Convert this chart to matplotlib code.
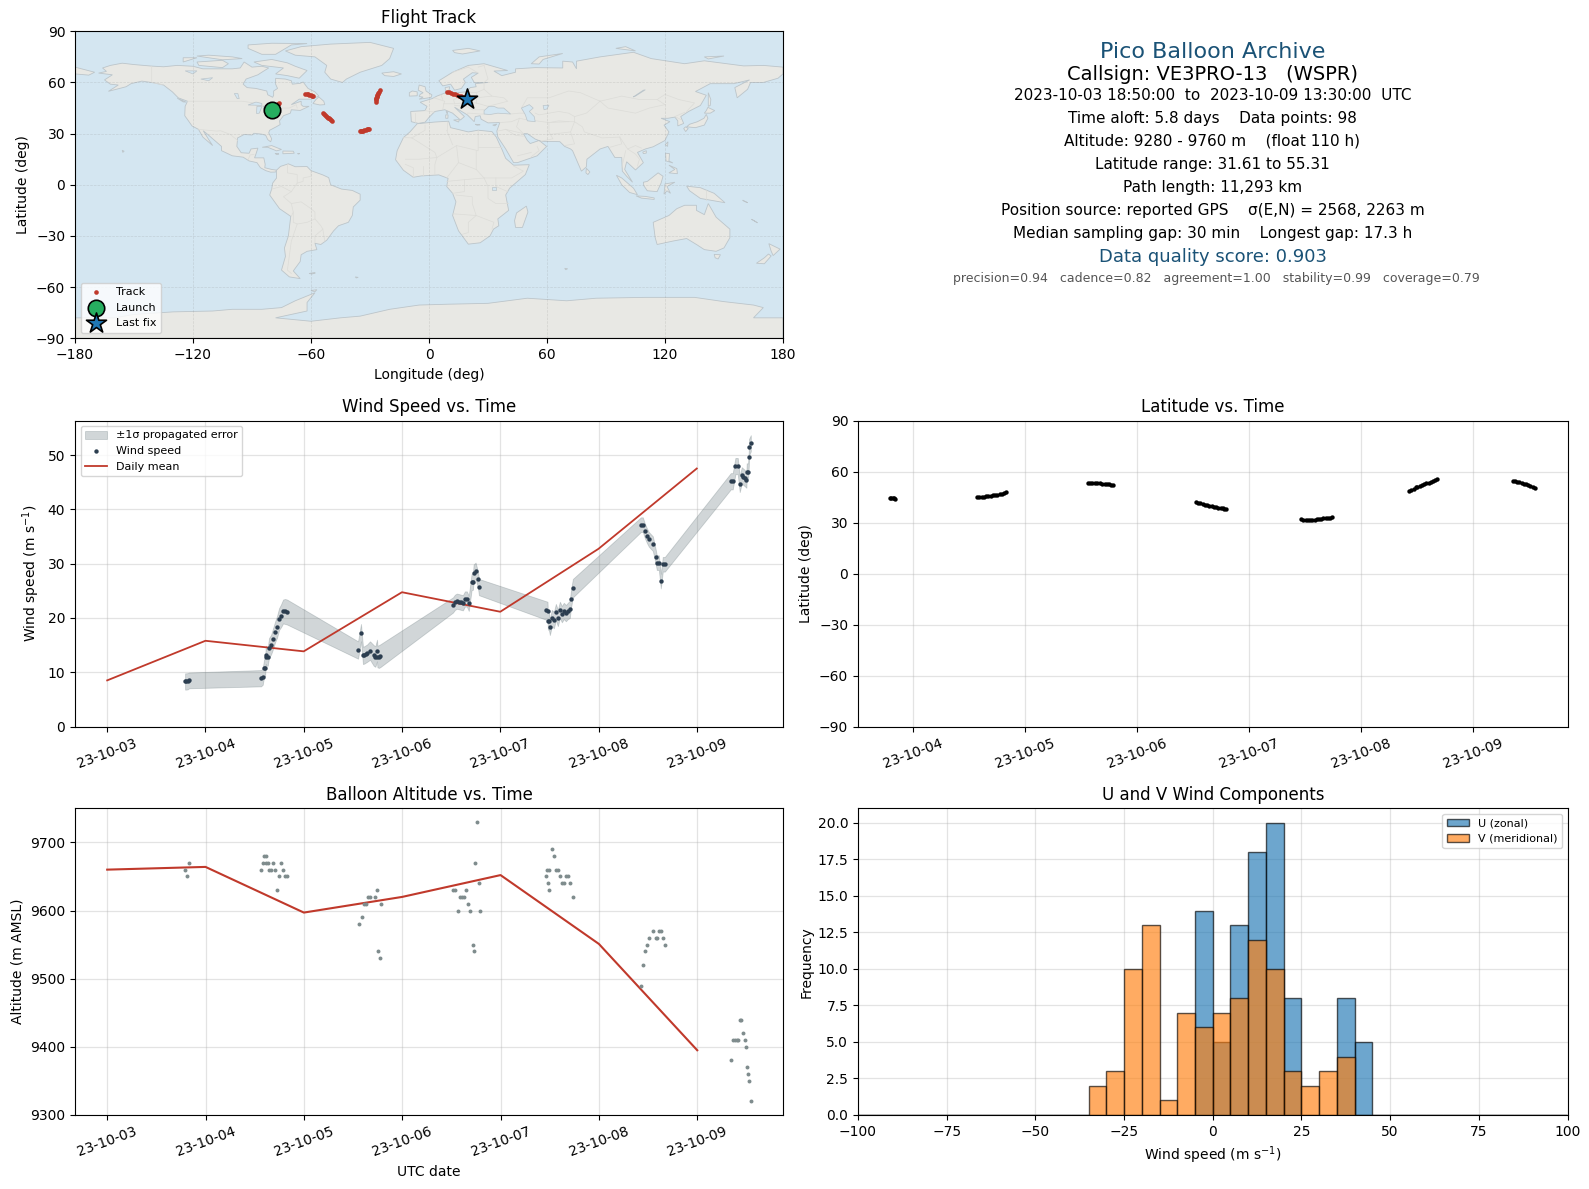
import matplotlib
matplotlib.use("Agg")
import matplotlib.pyplot as plt
import matplotlib.dates as mdates
from matplotlib.patches import Polygon
import numpy as np
import pandas as pd

W, H = 1589, 1189
START = pd.Timestamp("2023-10-03")

# ---------------------------------------------------------------- data
wind_day = [0.793,0.807,0.82,0.834,
 1.566,1.583,1.597,1.607,1.614,1.62,1.634,1.647,1.668,1.688,1.708,1.729,1.749,1.769,1.79,1.81,1.83,
 2.553,2.583,2.603,2.617,2.63,2.644,2.675,2.712,2.729,2.746,2.75,2.766,2.78,
 3.519,3.539,3.559,3.58,3.6,3.62,3.64,3.66,3.68,3.708,3.722,3.729,3.749,3.773,3.783,
 4.464,4.481,4.485,4.495,4.505,4.525,4.546,4.566,4.586,4.607,4.627,4.647,4.668,4.688,4.708,4.72,4.739,
 5.431,5.451,5.471,5.492,5.512,5.553,5.583,5.593,5.614,5.634,5.654,5.675,
 6.346,6.366,6.393,6.417,6.437,6.458,6.475,6.488,6.505,6.508,6.522,6.53,6.532,6.55]
wind_speed = [8.3,8.3,8.35,8.5,
 8.9,9.2,10.85,10.85,13.2,12.9,12.9,14.5,15.1,16.2,17.4,18.4,19.8,20.4,21.2,21.2,21.1,
 14.1,17.3,13.1,13.2,13.35,13.5,14.0,13.1,12.9,14.0,12.9,12.9,13.05,
 22.4,22.9,23.1,23.0,22.9,22.8,23.5,23.5,22.7,26.6,26.7,28.35,28.7,27.1,25.7,
 21.4,21.3,19.45,19.45,18.35,20.0,19.6,21.1,20.0,21.5,20.7,21.3,20.9,21.3,21.6,23.5,25.5,
 37.2,37.2,36.1,35.2,34.5,33.7,31.2,30.2,30.2,26.8,29.9,29.9,
 45.2,45.2,48.0,48.0,44.7,46.3,46.0,45.8,45.5,47.0,47.0,49.6,51.5,52.2]
wind_sigma = [1.5,1.5,1.5,1.45,
 1.5,1.5,1.6,1.6,1.7,1.7,1.7,1.8,1.8,1.9,1.9,2.0,2.0,2.1,2.2,2.3,2.3,
 1.6,1.6,1.6,1.6,1.6,1.6,1.7,1.9,1.9,2.0,2.0,2.1,2.1,
 1.4,1.4,1.4,1.4,1.4,1.4,1.4,1.4,1.4,1.5,1.5,1.5,1.5,1.5,1.5,
 1.7,1.7,1.6,1.6,1.5,1.5,1.5,1.5,1.5,1.5,1.5,1.5,1.5,1.5,1.6,1.6,1.7,
 1.35,1.35,1.35,1.35,1.35,1.35,1.35,1.35,1.35,1.35,1.35,1.35,
 1.5,1.5,1.5,1.5,1.5,1.5,1.5,1.5,1.5,1.5,1.5,1.5,1.5,1.5]

mean_day = [0, 1, 2, 3, 4, 5, 6]
wind_mean = [8.5, 15.8, 13.85, 24.75, 21.15, 32.75, 47.55]
alt_mean = [9660, 9664, 9597, 9620, 9652, 9551, 9395]

alt_day = [0.793,0.813,0.834,
 1.566,1.587,1.593,1.617,1.62,1.637,1.648,1.668,1.688,1.709,1.729,1.749,1.77,1.79,1.81,1.83,
 2.557,2.587,2.61,2.63,2.65,2.67,2.72,2.74,2.75,2.77,2.78,
 3.52,3.54,3.564,3.585,3.605,3.625,3.645,3.665,3.686,3.716,3.726,3.736,3.757,3.777,3.787,
 4.466,4.476,4.486,4.497,4.497,4.527,4.547,4.568,4.588,4.608,4.628,4.649,4.669,4.689,4.709,4.74,
 5.43,5.45,5.47,5.49,5.51,5.55,5.585,5.59,5.61,5.63,5.65,5.67,
 6.34,6.36,6.38,6.40,6.41,6.43,6.45,6.47,6.49,6.50,6.51,6.52,6.525,6.545]
alt_m = [9660,9650,9670,
 9660,9670,9680,9670,9680,9670,9660,9660,9670,9660,9630,9650,9670,9660,9650,9650,
 9580,9590,9610,9610,9620,9620,9620,9630,9540,9530,9610,
 9630,9630,9600,9620,9620,9620,9630,9610,9600,9550,9540,9670,9730,9640,9600,
 9650,9660,9640,9660,9630,9690,9680,9660,9660,9650,9640,9640,9650,9650,9640,9620,
 9490,9520,9540,9550,9560,9570,9560,9560,9570,9570,9560,9550,
 9380,9410,9410,9410,9410,9440,9440,9420,9410,9400,9370,9360,9350,9320]

lat_day = [0.79,0.80,0.815,0.83,0.84,
 1.57,1.59,1.61,1.63,1.65,1.67,1.69,1.71,1.73,1.75,1.77,1.79,1.81,1.826,
 2.56,2.58,2.60,2.62,2.64,2.67,2.69,2.71,2.73,2.75,2.77,2.78,
 3.525,3.545,3.565,3.585,3.605,3.625,3.645,3.665,3.685,3.705,3.725,3.745,3.765,3.78,3.797,
 4.465,4.485,4.505,4.525,4.545,4.565,4.585,4.605,4.625,4.645,4.665,4.685,4.705,4.725,4.74,
 5.43,5.45,5.47,5.49,5.505,5.525,5.545,5.565,5.585,5.605,5.625,5.645,5.665,5.68,
 6.355,6.375,6.395,6.415,6.435,6.455,6.475,6.495,6.515,6.535,6.555]
lat_deg = [44.2,44.2,44.2,44.2,44.1,
 44.8,44.9,45.0,45.1,45.3,45.5,45.7,45.9,46.1,46.4,46.6,47.0,47.4,47.8,
 53.1,53.1,53.1,53.1,53.1,53.0,52.9,52.8,52.7,52.5,52.2,52.1,
 41.9,41.6,41.2,40.9,40.5,40.1,39.8,39.5,39.3,39.1,38.8,38.5,38.3,38.0,37.7,
 31.8,31.7,31.65,31.61,31.65,31.7,31.75,31.8,31.9,32.2,32.4,32.5,32.7,32.9,33.0,
 48.8,49.4,50.0,50.6,51.0,51.5,51.9,52.4,53.0,53.4,53.9,54.4,54.9,55.31,
 54.7,54.2,53.9,53.6,53.3,52.9,52.4,52.0,51.5,51.0,50.5]

track_lon = [-80.0,-79.7,-79.4,-79.2,
 -79.0,-78.6,-78.2,-77.9,-77.6,-77.3,-77.0,-76.6,-76.2,
 -62.9,-62.2,-61.5,-60.8,-60.2,-59.5,-58.9,
 -53.7,-53.2,-52.7,-52.3,-51.9,-51.4,-50.9,-50.3,-49.8,-49.4,
 -35.2,-34.6,-34.0,-33.4,-32.8,-32.2,-31.6,-31.0,-30.5,
 -27.0,-26.9,-26.8,-26.7,-26.6,-26.4,-26.2,-26.0,-25.7,-25.4,-25.0,
 9.2,10.2,11.2,12.2,13.2,14.2,15.2,16.2,17.2,18.2,19.1]
track_lat = [44.2,44.2,44.2,44.1,
 44.8,45.1,45.5,45.9,46.3,46.7,47.1,47.5,47.8,
 53.1,53.1,53.0,52.8,52.5,52.2,52.1,
 41.9,41.3,40.7,40.2,39.7,39.3,38.9,38.5,38.1,37.7,
 31.6,31.6,31.7,31.8,32.0,32.3,32.6,32.9,33.0,
 48.8,49.6,50.4,51.0,51.6,52.2,52.8,53.4,54.0,54.6,55.31,
 54.7,54.3,53.9,53.5,53.1,52.7,52.2,51.8,51.3,50.9,50.5]
launch_lon, launch_lat = -79.9, 44.1
last_lon, last_lat = 19.1, 50.5

bin_edges = [-100 + 5 * i for i in range(41)]
u_counts = {-5:14, 0:5, 5:13, 10:18, 15:20, 20:8, 35:8, 40:5}
v_counts = {-35:2, -30:3, -25:10, -20:13, -15:1, -10:7, -5:6, 0:7, 5:8, 10:12, 15:10, 20:3, 25:2, 30:3, 35:4}

# land outlines (lon, lat)
north_america = [(-168,65.5),(-164,66.5),(-166,68.5),(-162,70),(-156,71.3),(-150,70.5),(-141,69.6),(-135,69.2),(-128,70),(-120,69.5),(-115,68),(-108,68),(-100,68),(-96,68.5),(-94,72),(-90,69),(-85,69.5),(-81.5,68.5),(-85,66),(-87,64.5),(-93,62),(-94.5,59),(-92.5,57),(-88,56.5),(-82.5,55),(-82,52.8),(-79.5,51.3),(-79,52.5),(-79,55),(-77,56.5),(-78,59),(-78,62.4),(-73,62),(-70,61),(-69.5,59),(-65.5,59.5),(-64,60.3),(-61.5,56.5),(-58,54.5),(-56,52),(-60,50.2),(-66,50.2),(-70,47),(-65,49),(-65,47),(-64,46),(-61,46),(-65.5,43.6),(-70,44),(-70.5,42),(-74,40.5),(-76,37.5),(-75.7,35.3),(-78,33.8),(-81,32),(-81.5,30.5),(-80,27),(-80.5,25.2),(-82,26.5),(-83,29),(-85,29.7),(-89,30.2),(-90,29.2),(-94,29.5),(-97.3,27.5),(-97.7,22.5),(-95.5,18.8),(-91.5,18.5),(-90.5,21),(-87,21.5),(-88,18),(-88.7,15.8),(-84,15.8),(-83.3,12),(-83.5,10),(-80,9),(-77.5,8.6),(-78,7.5),(-80.5,7.4),(-83,8.3),(-85.7,10),(-87.5,13),(-91.5,14),(-94.5,16.2),(-100,17),(-105.5,20),(-105.5,22.5),(-109,26),(-112.5,29.5),(-114.8,31.7),(-112,26.5),(-110,23),(-112,25),(-115,28),(-117.2,32.5),(-120.5,34.5),(-122.5,37.8),(-124.2,40.5),(-124,46),(-122.8,49),(-127.5,51),(-130.5,54.5),(-135,58.5),(-140,59.8),(-146,60.8),(-151.5,59.3),(-154,57.5),(-163,54.8),(-158,58.5),(-162,59),(-165,61.5),(-161,64.5)]
south_america = [(-77.5,8.6),(-75.5,10.8),(-71.5,12.3),(-68,10.6),(-62,10.7),(-60,8.3),(-54,5.8),(-51,4.2),(-50,0),(-44.5,-2.5),(-39,-3.3),(-35,-5.5),(-35,-9),(-38.5,-13),(-39,-18),(-41,-22),(-46,-24),(-48.5,-27),(-52,-32.5),(-55,-35),(-58,-34.3),(-57,-38),(-62,-39),(-65,-41),(-65.5,-45),(-69,-50.5),(-65.5,-55),(-71,-54),(-75,-50),(-73,-42),(-73.5,-37),(-71.5,-30),(-70.3,-18.5),(-76,-14),(-81,-6),(-80,-2.5),(-79.5,1),(-77.5,4)]
africa = [(-6,35.8),(3,36.8),(10,37.3),(11,33.5),(15,32.4),(20,31),(25,32),(32,31.2),(34.2,28),(37,21),(39,15.5),(43,11.5),(51,11.8),(49,6),(41,-2),(39,-6),(40.5,-15),(35,-20),(35.5,-24),(32.8,-26),(31,-30),(26,-34),(20,-34.8),(18.2,-32),(15,-27),(12,-18),(13.7,-10),(12,-5),(9,-1),(9.7,3.8),(5,5.8),(-4,5.2),(-8,4.4),(-13,8.5),(-17,14.7),(-16.2,20),(-13,27.7),(-9.7,31)]
eurasia = [(-9,37),(-9.3,43),(-2,43.5),(-1,46),(-4.5,48.4),(1.5,50.5),(4,52),(8.5,54),(8.2,57),(10.5,57.5),(10,54.5),(14,54),(19,54.5),(21,57),(24,57.5),(23.5,59.3),(30,60),(23,60),(21.5,63),(25,65.5),(22,65.7),(17.5,62),(18.5,60),(16.5,56.5),(13,55.5),(11,59),(7,58),(5,61),(12,66),(20,70),(28,71),(40,67),(33,66.7),(37,64),(44,66),(44,68),(54,68.7),(68,68.5),(68,72.5),(73,72),(75,68),(75,72.5),(87,75),(104,77.7),(113,74),(130,71),(140,72.7),(160,69.7),(170,70),(180,69),(180,65),(177.5,62.5),(170,60),(163.5,60),(162,56),(156.7,51),(155.5,57),(163,61.5),(155,59.3),(143,59.3),(135.5,54.7),(141,52.5),(138,46.5),(132,43),(128,40),(129.5,36),(126.5,34.5),(126.5,37.5),(125,39.7),(121.5,39),(118,39),(122.5,37),(119.5,35),(122,31),(120,26),(114,22.3),(110,21),(106,19),(109,13),(105,8.7),(100.5,13.5),(99.5,9),(103.5,1.5),(100.5,5),(98.3,8),(98,16),(94.5,16),(91,22.5),(87,21),(80.3,15),(80,10.5),(77.5,8),(73,20),(72,21),(69,22.5),(66.5,25.3),(57,25.5),(54,26.8),(50,30),(48,30),(50,26),(51.5,24.2),(56,26),(59.8,22.5),(55,17),(45,13),(43,13),(39,21),(35,28),(34.5,31.5),(36,36.5),(30,36.3),(26.5,38.5),(26,40.5),(23.5,40),(23,37),(19.5,41),(13,45.5),(18,40),(16,38),(12,42),(8,44),(3,43),(0,39.5),(-2,36.7),(-5.5,36)]
chukotka = [(-180,69),(-175,67.5),(-170,66),(-173,64.3),(-180,65)]
greenland = [(-73,78.5),(-65,81),(-50,82.5),(-30,83.5),(-18,80),(-20,74),(-24,70),(-35,66),(-42,62),(-44,60),(-50,62),(-53,66),(-52,70),(-58,75),(-68,76)]
antarctica = [(-180,-90),(-180,-78),(-160,-78),(-150,-76),(-130,-74.5),(-110,-74),(-100,-73),(-85,-73),(-75,-72),(-68,-68),(-58,-63.3),(-62,-69),(-62,-74),(-78,-78),(-60,-80),(-45,-78),(-35,-77),(-20,-73),(-5,-70.5),(10,-70),(30,-69.5),(50,-66.5),(70,-68),(85,-66.5),(110,-66),(135,-66),(150,-68.5),(165,-70.5),(170,-72),(165,-78),(180,-78),(180,-90)]
australia = [(114,-22),(122,-18),(126,-14),(130,-12),(136,-12),(136,-15),(140,-17.5),(142,-11),(146,-19),(153,-26),(153,-31),(150,-37),(146,-39),(140,-38),(136,-35),(131,-31.5),(124,-33),(116,-35),(115,-31)]
madagascar = [(49.5,-12.5),(50.3,-16),(47.5,-25),(44,-25),(43.5,-21),(44.5,-16.5)]
islands = [
 [(-5,50.2),(1,51.2),(1.5,52.7),(-1.5,55),(-2,57.5),(-5,58.5),(-5.5,55.5),(-3,54),(-4.5,53),(-5,51.8),(-3,51.4)],
 [(-10,52),(-6,52.2),(-6,54.5),(-8.5,55),(-10,54)],
 [(-24,65.5),(-18,66.3),(-14,65),(-18,63.5),(-22.5,64)],
 [(-59,47.7),(-55.5,46.8),(-53,47),(-53.5,49),(-56,51.5),(-57.5,50)],
 [(-80,73.5),(-72,71.5),(-68,69.5),(-62,67),(-66,62.5),(-72,64),(-78,65),(-74,68.5),(-85,70),(-89,72)],
 [(-117,70),(-105,68.7),(-102,71),(-105,73),(-118,72)],
 [(-125,72),(-118,74.5),(-125,74.5)],
 [(-92,80),(-85,76.5),(-78,76.5),(-70,82),(-62,82.8),(-80,83),(-92,82)],
 [(-112,76),(-100,75),(-95,74),(-105,73.3),(-118,75.5)],
 [(-128,50.8),(-123.5,48.5),(-125,48.6)],
 [(-84.8,22),(-80,23),(-75,20.7),(-77.5,19.9),(-82,22)],
 [(-74.3,19.8),(-69,19.7),(-68.5,18.5),(-74.3,18.2)],
 [(-78.3,18.4),(-76.3,18.1),(-77.5,17.8)],
 [(-66.8,18.4),(-65.7,18.3),(-66.5,18)],
 [(-58.5,-51.5),(-57.8,-51.7),(-59.5,-52.3),(-61,-52)],
 [(130.5,31.2),(131.8,33),(130.5,34),(129.5,33)],
 [(131,34),(135.5,33.5),(140,35),(141.8,39),(141,41.3),(139.8,39),(136.5,37),(132.5,35.5)],
 [(140,42),(143,42),(145.3,43.5),(141.8,45.4),(141,43.5)],
 [(142,54),(143.3,50),(143,46.5),(142,46),(142,50)],
 [(120.1,23.5),(121.5,25.2),(121.3,22.5)],
 [(108.7,19.2),(110.5,20),(110.5,18.6),(109,18.3)],
 [(80,9.7),(81.8,7.5),(80.8,6),(79.8,7)],
 [(95.3,5.6),(98,4),(104,-2),(106,-5.8),(102,-4.5),(98,0)],
 [(109,1.5),(111,2),(116.5,7),(119,5),(118,1),(116,-4),(111,-3.5),(109.2,-0.5)],
 [(105.3,-6.5),(110,-6.8),(114.5,-7.7),(114.5,-8.6),(108,-7.8)],
 [(119.5,-5.5),(120,0.5),(125,1.5),(121,-1),(122.8,-5),(121,-3.5)],
 [(131,-0.8),(138,-1.7),(145,-5),(150.5,-10.5),(143,-9),(138,-8),(132.5,-3.5)],
 [(120.3,18.5),(122.3,18.3),(122,14),(124,12.8),(120.5,14)],
 [(122,11.5),(126,9.5),(126.3,6.5),(122,7),(125,9)],
 [(172.8,-34.5),(178.5,-37.7),(175,-41.5),(174,-39)],
 [(172.6,-40.6),(174,-41.7),(170.5,-46.3),(166.5,-46),(170.5,-42.8)],
 [(145,-40.8),(148.2,-41),(147,-43.5),(145.5,-42.8)],
 [(12,78.8),(20,80),(26,78.5),(17,76.7),(13,77.5)],
 [(52,71),(56,75),(68,77),(58,73.5),(56,70.8)],
 [(95,80),(105,78.5),(100,81)],
 [(140,75),(150,75.5),(142,73.8)],
 [(8.5,41),(9.7,41),(9.6,39),(8.5,39)],
 [(12.5,38),(15.5,38.2),(15,36.8)],
 [(8.7,43),(9.5,42.9),(9.3,41.5)],
 [(23.5,35.5),(26,35.2),(24.5,34.9)],
 [(32.4,35),(34.5,35.6),(33.5,34.6)],
 [(-156,20.2),(-155,19.7),(-155.7,19)],
 [(160,-9.5),(162,-10.5),(159.5,-9)],
 [(164,-20.2),(167,-22.3),(166,-21.5)],
 [(69,-49),(70.5,-49.2),(69.5,-49.8)],
 [(-37.5,-54),(-36,-54.3),(-37,-54.6)],
 [(-60,-62),(-57,-61.5),(-58,-62.7)],
]
lakes = [
 [(28,41.5),(31,41.2),(35,42),(41.5,41.5),(38,45),(35,45),(33,46),(30.5,46),(28,43.5)],
 [(47,45),(51,47),(53,45),(51,43),(53.5,40),(54,37),(50,37.5),(49,41)],
 [(-92,46.8),(-88,48.5),(-85,47.7),(-85,46.5),(-89,46.7)],
 [(-87.5,46),(-85,45.8),(-86.3,42),(-87.7,41.8)],
 [(-84.5,46),(-81,46),(-80,44.7),(-82,43),(-83.5,44)],
 [(-83.3,41.8),(-79,42.8),(-79,43),(-82.5,42.4)],
 [(-79.7,43.3),(-76.3,43.5),(-76.3,44.1),(-79,43.9)],
 [(-99,53.5),(-97.2,53.5),(-96.5,50.5),(-97.5,50.5)],
 [(-124,66.8),(-118,66.8),(-120,65)],
 [(-116,62),(-110,62.8),(-112,61)],
 [(31.8,-1),(34,-1),(34,-3),(32,-3)],
 [(103.8,51.5),(105,52),(110,55.7),(109,55.5)],
 [(58,46.5),(61,46.7),(60,44.5),(58.5,44)],
]
borders = [
 [(-141,69.6),(-141,60),(-135,58.5)],
 [(-122.8,49),(-95,49),(-89,48),(-84,46.5),(-82,43),(-79,43),(-75,45),(-71,45),(-67.5,47),(-67,45)],
 [(-117.2,32.5),(-108,31.5),(-106,31.7),(-101,29.5),(-97.3,26)],
 [(-92,14.5),(-91,17.5),(-89,17.8)],
 [(-72,12),(-72,7),(-67,6),(-67,1),(-70,-4),(-74,-7),(-70,-11),(-69,-16),(-70,-18.4)],
 [(-60,8.3),(-60,5),(-64,4),(-64,2),(-67,1)],
 [(-58,-20),(-58,-16),(-60,-14),(-65,-10),(-70,-11)],
 [(-69,-16),(-69,-22),(-67,-23),(-70,-33),(-72,-50),(-70,-52)],
 [(-67,-23),(-62,-22),(-58,-20),(-55,-24),(-54,-26),(-58,-30),(-58,-34)],
 [(-54,-26),(-53,-33)],
 [(-80,-2.5),(-75,-1),(-70,-4)],
 [(-8.7,27.5),(-13,27.7)],[(-8.7,27.5),(3,19),(4,16),(14,23),(25,20),(25,32)],
 [(-8.7,27.5),(-2,32),(-2,35)],
 [(9,32),(9,37)],[(9,32),(12,23.5)],
 [(25,22),(37,22)],[(24,20),(24,9),(28,4),(34,4),(42,4),(48,8),(43,11)],
 [(34,4),(34,-1),(40,-4)],[(28,4),(30,-1),(30,-8),(34,-11),(40.5,-11)],
 [(4,16),(3,12),(3,6)],[(14,23),(15,13),(9,4)],[(15,13),(24,9)],[(-12,15),(-5,15),(4,16)],
 [(-8,4.4),(-8,10),(-12,12)],[(-3,5),(-3,11)],
 [(13.7,-6),(22,-7),(22,-11),(24,-18),(12,-17)],[(24,-18),(20,-22),(20,-28),(17,-29)],[(24,-18),(33,-22),(32,-26)],
 [(9,2),(18,3),(18,-4),(12,-5)],[(18,3),(28,4)],
 [(35,31.5),(39,32.5),(48,30)],[(36,36.5),(42,37),(46,39),(44.5,34),(48,30)],[(46,39),(48,38.5),(61,36.5),(61,31),(63,27),(57,25.5)],
 [(39,32.5),(44,29),(48,28.5)],[(52,16.5),(56,20),(55,22.5)],[(45,17),(52,19)],
 [(61,36.5),(71,37),(74,37),(72,31),(61,29.5)],[(72,31),(74,24),(69,23)],[(74,37),(78,34),(79,31),(88,27.5),(97,28),(98,24),(92,22)],
 [(97,28),(101,21),(105,23),(108,21.5)],[(101,21),(105,18),(107,15),(106,11)],[(100,20),(98,10)],
 [(49,42),(47,45),(50,51),(61,51),(71,55),(77,54),(85,50),(87,49)],[(87,49),(98,52),(107,50),(116,50),(120,53),(127,50),(135,48),(131,43)],[(87,49),(80,42),(74,40),(74,37)],[(87,49),(91,45),(105,42),(112,45),(120,47),(116,50)],
 [(54,42),(56,41),(66,43),(71,42),(74,40)],[(61,36.5),(66,37.5),(71,37)],
 [(130,42.5),(125,40),(128,38.3)],
 [(28,41.5),(26,41.5),(21,42),(19.5,42)],[(41.5,41.5),(46,42),(49,42)],[(30,46),(24,48),(22,48),(19,50)],
 [(24,48),(24,54)],[(30,46),(40,49),(38,51),(32,52),(24,51)],[(32,52),(28,56),(28,60)],[(19,54.5),(24,54),(28,56)],
 [(7,50),(6,53)],[(2.5,51),(8,49),(7.5,47.5),(13,47.5),(17,48),(22,48)],[(14,54),(15,51),(19,50)],[(15,51),(12.5,50),(13,47.5)],
 [(-2,43.5),(3,42.5)],[(-7,42),(-7,37)],[(7.5,47.5),(7,44)],[(13,46.5),(19,46),(22,44),(28,44)],
 [(12,66),(20,69)],[(25,69),(28,70)],[(25,65.5),(20,69)],[(28,70),(30,62),(28,60)],
 [(141,-3),(141,-9)],
]

# ---------------------------------------------------------------- helpers
def axes_px(l, t, r, b):
    return [l / W, 1 - b / H, (r - l) / W, (b - t) / H]

def to_time(days):
    return START + pd.to_timedelta(np.asarray(days, dtype=float), unit="D")

def style_time(ax):
    ax.xaxis.set_major_locator(mdates.DayLocator())
    ax.xaxis.set_major_formatter(mdates.DateFormatter("%y-%m-%d"))
    ax.tick_params(axis="x", labelrotation=20)
    ax.grid(True, color="#b0b0b0", alpha=0.35, lw=0.9)
    ax.set_axisbelow(True)

RED = "#c0392b"
NAVY = "#1a5276"
OCEAN = "#d4e6f1"
LAND = "#e8e8e4"
COAST = "#bcc5ca"
BORDER = "#dcdcd8"

fig = plt.figure(figsize=(W / 100, H / 100), dpi=100, facecolor="white")

# ---------------------------------------------------------------- map
ax = fig.add_axes(axes_px(75, 31.3, 783, 338.3))
ax.set_facecolor(OCEAN)
for poly in [north_america, south_america, africa, eurasia, chukotka, greenland,
             antarctica, australia, madagascar] + islands:
    ax.add_patch(Polygon(poly, closed=True, fc=LAND, ec=COAST, lw=0.6, zorder=1))
for poly in lakes:
    ax.add_patch(Polygon(poly, closed=True, fc=OCEAN, ec=COAST, lw=0.5, zorder=1.2))
for line in borders:
    xs, ys = zip(*line)
    ax.plot(xs, ys, color=BORDER, lw=0.5, zorder=1.1)
ax.set_xlim(-180, 180)
ax.set_ylim(-90, 90)
ax.set_xticks(range(-180, 181, 60))
ax.set_yticks(range(-90, 91, 30))
ax.xaxis.set_major_formatter(lambda v, p: f"{int(v)}".replace("-", "\u2212"))
ax.yaxis.set_major_formatter(lambda v, p: f"{int(v)}".replace("-", "\u2212"))
ax.grid(True, color="#808080", alpha=0.22, lw=0.5, ls="--", zorder=1.5)
ax.scatter(track_lon, track_lat, s=11, lw=0, color=RED, zorder=3, label="Track")
ax.scatter([launch_lon], [launch_lat], s=140, color="#27ae60", ec="black", lw=1.2, zorder=4, label="Launch")
ax.scatter([last_lon], [last_lat], s=230, marker="*", color="#1f77b4", ec="black", lw=1.2, zorder=5, label="Last fix")
ax.set_title("Flight Track", fontsize=12)
ax.set_xlabel("Longitude (deg)")
ax.set_ylabel("Latitude (deg)")
ax.legend(loc="lower left", fontsize=8)

# ---------------------------------------------------------------- text panel
ax = fig.add_axes(axes_px(858, 31.3, 1567.5, 338.3))
ax.axis("off")
lines = [
 (52, "Pico Balloon Archive", 16, NAVY, 1213),
 (74.5, "Callsign: VE3PRO-13   (WSPR)", 14, "black", 1212.5),
 (95.5, "2023-10-03 18:50:00  to  2023-10-09 13:30:00  UTC", 11, "black", 1213),
 (118.5, "Time aloft: 5.8 days    Data points: 98", 11, "black", 1212.5),
 (141.5, "Altitude: 9280 - 9760 m    (float 110 h)", 11, "black", 1212.5),
 (164.5, "Latitude range: 31.61 to 55.31", 11, "black", 1212.5),
 (187.5, "Path length: 11,293 km", 11, "black", 1213),
 (210.5, "Position source: reported GPS    \u03c3(E,N) = 2568, 2263 m", 11, "black", 1213),
 (233.5, "Median sampling gap: 30 min    Longest gap: 17.3 h", 11, "black", 1213),
 (257.5, "Data quality score: 0.903", 13, NAVY, 1213),
 (278.5, "precision=0.94   cadence=0.82   agreement=1.00   stability=0.99   coverage=0.79", 9, "#555555", 1216),
]
for y, s, size, col, x in lines:
    fig.text(x / W, 1 - y / H, s, fontsize=size, color=col, ha="center", va="center")

# ---------------------------------------------------------------- wind speed
ax = fig.add_axes(axes_px(75, 420.5, 783, 726.5))
t = to_time(wind_day)
ws = np.array(wind_speed)
sg = np.array(wind_sigma)
ax.fill_between(t, ws - sg, ws + sg, color="#5d6f74", alpha=0.28, lw=0.6, label="\u00b11\u03c3 propagated error")
ax.scatter(t, ws, s=10, lw=0, color="#2c3e50", zorder=3, label="Wind speed")
ax.plot(to_time(mean_day), wind_mean, color=RED, lw=1.3, zorder=2, label="Daily mean")
style_time(ax)
ax.set_ylim(0, 56.4)
ax.set_ylabel("Wind speed (m s$^{-1}$)")
ax.set_title("Wind Speed vs. Time", fontsize=12)
ax.legend(loc="upper left", fontsize=8)

# ---------------------------------------------------------------- latitude
ax = fig.add_axes(axes_px(858, 420.5, 1567.5, 726.5))
ax.scatter(to_time(lat_day), lat_deg, s=10, lw=0, color="black", zorder=3)
style_time(ax)
ax.set_ylim(-90, 90)
ax.set_yticks(range(-90, 91, 30))
ax.set_xlim(to_time([0.505])[0], to_time([6.846])[0])
ax.set_ylabel("Latitude (deg)")
ax.set_title("Latitude vs. Time", fontsize=12)

# ---------------------------------------------------------------- altitude
ax = fig.add_axes(axes_px(75, 808.3, 783, 1115))
ax.scatter(to_time(alt_day), alt_m, s=8, lw=0, color="#7f8c8d", zorder=3)
ax.plot(to_time(mean_day), alt_mean, color=RED, lw=1.5, zorder=2)
style_time(ax)
ax.set_ylim(9300, 9750)
ax.set_yticks(range(9300, 9701, 100))
ax.set_xlabel("UTC date")
ax.set_ylabel("Altitude (m AMSL)")
ax.set_title("Balloon Altitude vs. Time", fontsize=12)

# ---------------------------------------------------------------- histogram
ax = fig.add_axes(axes_px(858, 808.3, 1567.5, 1115))
for counts, label, col in [(u_counts, "U (zonal)", "#1f77b4"), (v_counts, "V (meridional)", "#ff7f0e")]:
    left = list(counts)
    ax.hist([v + 2.5 for v in left], bins=bin_edges, weights=list(counts.values()),
            color=col, alpha=0.65, edgecolor="black", lw=1, label=label, zorder=3)
ax.set_xlim(-100, 100)
ax.set_ylim(0, 21)
ax.set_yticks(np.arange(0, 20.1, 2.5))
ax.grid(True, color="#b0b0b0", alpha=0.35, lw=0.9)
ax.set_axisbelow(True)
ax.set_xlabel("Wind speed (m s$^{-1}$)")
ax.set_ylabel("Frequency", labelpad=2.5)
ax.set_title("U and V Wind Components", fontsize=12)
ax.legend(loc="upper right", fontsize=8)

fig.savefig("out.png", dpi=100, facecolor="white")
